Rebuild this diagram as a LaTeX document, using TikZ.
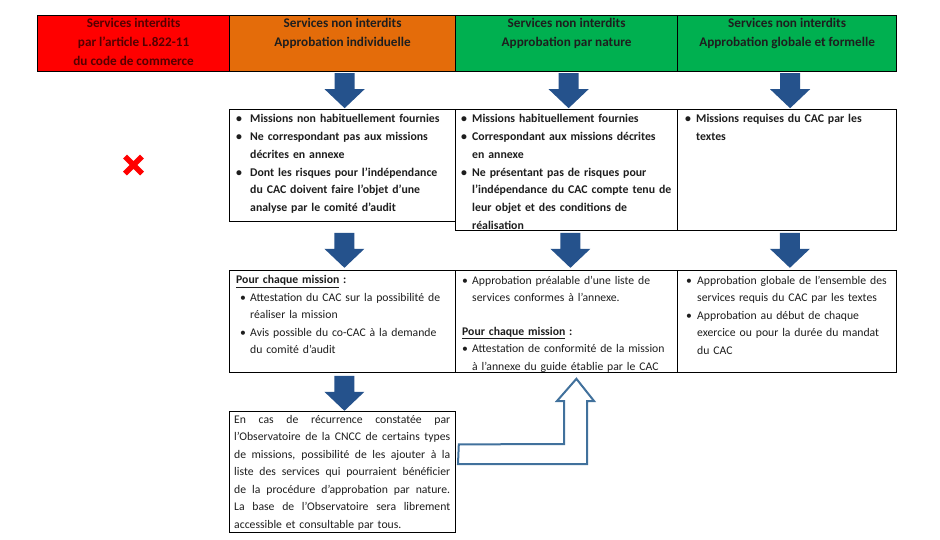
\documentclass[tikz,border=0pt]{standalone}
\usepackage{fontspec}
\setmainfont{Carlito}
\usetikzlibrary{calc}
\definecolor{hred}{RGB}{255,0,0}
\definecolor{horange}{RGB}{228,108,10}
\definecolor{hgreen}{RGB}{0,176,80}
\definecolor{arrblue}{RGB}{37,82,140}
\definecolor{outblue}{RGB}{65,113,156}
\definecolor{txt}{RGB}{30,30,30}
\definecolor{redtxt}{RGB}{85,0,0}
\newcommand\bu[1]{\makebox[#1][l]{\textbullet}}
\newcommand\bi[1]{\hspace*{#1}}
\newcommand\jl[1]{\leavevmode\hbox to 216pt{\spaceskip=\fontdimen2\font plus 1fil minus \fontdimen4\font\relax #1}}
\begin{document}
\begin{tikzpicture}[x=1pt,y=-1pt,
  hcell/.style={draw=black, line width=1.2pt, inner sep=0pt, anchor=north west},
  cell/.style={draw=black, line width=0.8pt, inner sep=0pt, anchor=north west, fill=white},
  htext/.style={anchor=north, inner sep=0pt, align=center, font=\fontsize{13.2}{19}\selectfont\bfseries},
  btext/.style={anchor=north west, inner sep=0pt, align=left, text width=260pt, text=txt, font=\fontsize{11.8}{17.7}\selectfont\bfseries},
  rtext/.style={anchor=north west, inner sep=0pt, align=left, text width=260pt, text=txt, font=\fontsize{11.7}{17.4}\selectfont},
  darr/.pic={\fill[arrblue] (-10,0) -- (10,0) -- (10,16) -- (20,16) -- (0,35) -- (-20,16) -- (-10,16) -- cycle;},
  hollow/.style={draw=outblue, line width=2pt, fill=white, line join=miter}
]
\useasboundingbox[fill=white] (0,0) rectangle (940,539);

% header
\node[hcell, fill=hred, minimum width=192pt, minimum height=56pt] (h1) at (37,15) {};
\node[hcell, fill=horange, minimum width=226pt, minimum height=56pt] (h2) at (229,15) {};
\node[hcell, fill=hgreen, minimum width=222pt, minimum height=56pt] (h3) at (455,15) {};
\node[hcell, fill=hgreen, minimum width=219pt, minimum height=56pt] (h4) at (677,15) {};
\node[htext, text=redtxt] (h1t) at ($(h1.north)+(0,3.5)$) {Services interdits\\par l’article L.822-11\\du code de commerce};
\node[htext, text=txt] (h2t) at ($(h2.north)+(0,3.5)$) {Services non interdits\\Approbation individuelle};
\node[htext, text=txt] (h3t) at ($(h3.north)+(0,3.5)$) {Services non interdits\\Approbation par nature};
\node[htext, text=txt] (h4t) at ($(h4.north)+(0,3.5)$) {Services non interdits\\Approbation globale et formelle};

% row 2
\node[cell, minimum width=226pt, minimum height=112pt] (r2a) at (229,109) {};
\node[cell, minimum width=222pt, minimum height=121pt] (r2b) at (455,109) {};
\node[cell, minimum width=219pt, minimum height=121pt] (r2c) at (677,109) {};
\node[btext] (r2at) at (236,114.5) {\bu{14pt}Missions non habituellement fournies\\
\bu{14pt}Ne correspondant pas aux missions\\
\bi{14pt}décrites en annexe\\
\bu{14pt}Dont les risques pour l’indépendance\\
\bi{14pt}du CAC doivent faire l’objet d’une\\
\bi{14pt}analyse par le comité d’audit};
\node[btext] (r2bt) at (461,114.5) {\bu{11pt}Missions habituellement fournies\\
\bu{11pt}Correspondant aux missions décrites\\
\bi{11pt}en annexe\\
\bu{11pt}Ne présentant pas de risques pour\\
\bi{11pt}l’indépendance du CAC compte tenu de\\
\bi{11pt}leur objet et des conditions de\\
\bi{11pt}réalisation};
\node[btext] (r2ct) at (685,114.5) {\bu{11pt}Missions requises du CAC par les\\
\bi{11pt}textes};

% row 3
\node[cell, minimum width=226pt, minimum height=102pt] (r3a) at (229,270) {};
\node[cell, minimum width=222pt, minimum height=102pt] (r3b) at (455,270) {};
\node[cell, minimum width=219pt, minimum height=102pt] (r3c) at (677,270) {};
\node[rtext] (r3at) at (236,275.5) {\textbf{\underline{Pour chaque mission}} \textbf{:}\\
\bi{4pt}\bu{10pt}Attestation du CAC sur la possibilité de\\
\bi{14pt}réaliser la mission\\
\bi{4pt}\bu{10pt}Avis possible du co-CAC à la demande\\
\bi{14pt}du comité d’audit};
\node[rtext] (r3bt) at (462,276) {\bu{10pt}Approbation préalable d’une liste de\\
\bi{10pt}services conformes à l’annexe.\\[16pt]
\textbf{\underline{Pour chaque mission}} \textbf{:}\\
\bu{10pt}Attestation de conformité de la mission\\
\bi{10pt}à l’annexe du guide établie par le CAC};
\node[rtext] (r3ct) at (686,276) {\bu{11pt}Approbation globale de l’ensemble des\\
\bi{11pt}services requis du CAC par les textes\\
\bu{11pt}Approbation au début de chaque\\
\bi{11pt}exercice ou pour la durée du mandat\\
\bi{11pt}du CAC};

% bottom box
\node[cell, minimum width=226pt, minimum height=121pt] (bx) at (229,411) {};
\node[rtext, font=\fontsize{11.7}{17.5}\selectfont] (bxt) at (234,415) {\jl{En cas de récurrence constatée par}\\
\jl{l’Observatoire de la CNCC de certains types}\\
\jl{de missions, possibilité de les ajouter à la}\\
\jl{liste des services qui pourraient bénéficier}\\
\jl{de la procédure d’approbation par nature.}\\
\jl{La base de l’Observatoire sera librement}\\
accessible et consultable par tous.};

% block arrows
\pic at ($(h2.south)+(2,1)$) {darr};
\pic at ($(h3.south)+(2,1)$) {darr};
\pic at ($(h4.south)+(3,1)$) {darr};
\pic at ($(r2a.south |- r2b.south)+(2,2)$) {darr};
\pic at ($(r2b.south)+(4,2)$) {darr};
\pic at ($(r2c.south)+(3,2)$) {darr};
\pic at ($(r3a.south)+(2,3)$) {darr};

% hollow arrow from bottom box up to middle column
\coordinate (ha0) at ($(bx.east)+(3,-27.5)$);
\coordinate (hatip) at ($(r3b.south)+(10,6)$);
\draw[hollow] (ha0) -- (564,444) -- (564,401) -- (557,401) -- (hatip) -- (594,401) -- (587,401) -- (587,464) -- (458,464) -- cycle;

% red cross
\draw[hred, line width=5.5pt] (125,156.5) -- (142,173.5) (142,156.5) -- (125,173.5);
\end{tikzpicture}
\end{document}
